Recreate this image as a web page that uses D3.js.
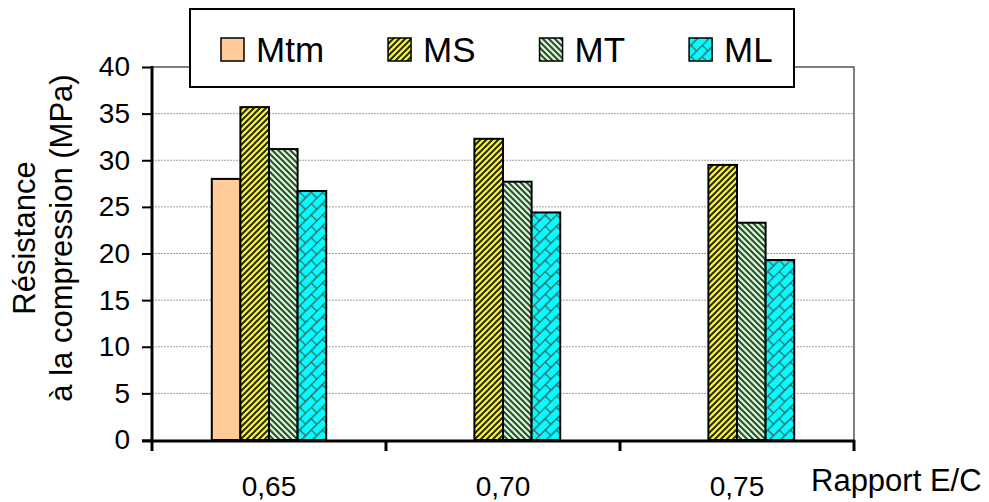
<!DOCTYPE html>
<html>
<head>
<meta charset="utf-8">
<script src="https://cdn.jsdelivr.net/npm/d3@7"></script>
<style>
  body { margin: 0; background: #fff; }
  svg { display: block; font-family: "Liberation Sans", Arial, sans-serif; }
</style>
</head>
<body>
<svg id="chart" width="989" height="502"></svg>
<script>
// data
const ratios = ['0,65', '0,70', '0,75']
const series = ['Mtm', 'MS', 'MT', 'ML']
const mtm = [28.0, null, null]
const ms = [35.7, 32.3, 29.5]
const mt = [31.2, 27.7, 23.3]
const ml = [26.7, 24.4, 19.3]
const yTicks = [0, 5, 10, 15, 20, 25, 30, 35, 40]

const values = { Mtm: mtm, MS: ms, MT: mt, ML: ml }

const svg = d3.select('#chart')
const plotL = 152, plotR = 854, plotT = 67, plotB = 440

// patterns for the hatched fills
const defs = svg.append('defs')

let pMS = defs.append('pattern').attr('id', 'pat-MS')
	.attr('patternUnits', 'userSpaceOnUse').attr('width', 6).attr('height', 6)
pMS.append('rect').attr('width', 6).attr('height', 6).attr('fill', '#ffff00')
pMS.append('path').attr('d', 'M-1.5,1.5 l3,-3 M0,6 l6,-6 M4.5,7.5 l3,-3')
	.attr('stroke', '#262626').attr('stroke-width', 2)

let pMT = defs.append('pattern').attr('id', 'pat-MT')
	.attr('patternUnits', 'userSpaceOnUse').attr('width', 6).attr('height', 6)
pMT.append('rect').attr('width', 6).attr('height', 6).attr('fill', '#ccffcc')
pMT.append('path').attr('d', 'M-1.5,4.5 l3,3 M0,0 l6,6 M4.5,-1.5 l3,3')
	.attr('stroke', '#404040').attr('stroke-width', 2)

// diagonal brick: brick rows rotated -45deg
let pML = defs.append('pattern').attr('id', 'pat-ML')
	.attr('patternUnits', 'userSpaceOnUse').attr('width', 16).attr('height', 16)
	.attr('patternTransform', 'rotate(-45)')
pML.append('rect').attr('width', 16).attr('height', 16).attr('fill', '#00ffff')
pML.append('path').attr('d', 'M0,0.5 H16 M0,8.5 H16 M0.5,0 V8 M8.5,8 V16')
	.attr('stroke', '#3d6262').attr('stroke-width', 1.3)

const fills = { Mtm: '#ffcc99', MS: 'url(#pat-MS)', MT: 'url(#pat-MT)', ML: 'url(#pat-ML)' }

// scales
const x0 = d3.scaleBand().domain(ratios).range([plotL, plotR]).paddingInner(0).paddingOuter(0)
const x1 = d3.scaleBand().domain(series).range([0, x0.bandwidth()]).paddingInner(0).paddingOuter(2.09)
const y = d3.scaleLinear().domain([0, 40]).range([plotB, plotT])

// gridlines
svg.append('g').selectAll('line').data(yTicks.filter(d => d > 0 && d < 40)).join('line')
	.attr('x1', plotL).attr('x2', plotR)
	.attr('y1', d => y(d)).attr('y2', d => y(d))
	.attr('stroke', '#a0a0a0').attr('stroke-width', 1).attr('stroke-dasharray', '2,1')

// plot area border (top and right)
svg.append('path')
	.attr('d', `M${plotL},${y(40)}H${plotR}V${plotB}`)
	.attr('fill', 'none').attr('stroke', '#555').attr('stroke-width', 1.5)

// bars
const groups = svg.append('g').selectAll('g').data(ratios).join('g')
	.attr('transform', d => `translate(${x0(d)},0)`)

groups.selectAll('rect')
	.data((d, i) => series.map(s => ({ s: s, v: values[s][i] })).filter(o => o.v != null))
	.join('rect')
	.attr('x', d => x1(d.s))
	.attr('width', x1.bandwidth())
	.attr('y', d => y(d.v))
	.attr('height', d => y(0) - y(d.v))
	.attr('fill', d => fills[d.s])
	.attr('stroke', '#000').attr('stroke-width', 2)

// y axis
const yAxis = svg.append('g').attr('transform', `translate(${plotL},0)`)
	.call(d3.axisLeft(y).tickValues(yTicks).tickSize(10).tickPadding(12).tickFormat(d3.format('d')))
yAxis.select('.domain').attr('d', `M0,${y(40) - 1}V${plotB + 1}`).attr('stroke-width', 3)
yAxis.selectAll('.tick line').attr('stroke-width', 2)
yAxis.selectAll('.tick text').attr('font-size', 28).attr('fill', '#000')
	.attr('font-family', '"Liberation Sans", Arial, sans-serif')

// x axis: ticks at category boundaries
const xAxis = svg.append('g')
xAxis.append('line').attr('x1', plotL - 10).attr('x2', plotR + 1)
	.attr('y1', plotB + 1).attr('y2', plotB + 1)
	.attr('stroke', '#000').attr('stroke-width', 3)
xAxis.selectAll('line.tk').data(ratios.map(r => x0(r)).concat([plotR])).join('line')
	.attr('class', 'tk')
	.attr('x1', d => d).attr('x2', d => d)
	.attr('y1', plotB).attr('y2', plotB + 11)
	.attr('stroke', '#000').attr('stroke-width', 3)
xAxis.selectAll('text').data(ratios).join('text')
	.attr('x', d => x0(d) + x0.bandwidth() / 2)
	.attr('y', 496)
	.attr('text-anchor', 'middle').attr('font-size', 28)
	.text(d => d)

svg.append('text').attr('x', 811).attr('y', 491).attr('font-size', 31)
	.text('Rapport E/C')

// y axis title, two lines
const yt = svg.append('text').attr('transform', 'translate(0,238) rotate(-90)')
	.attr('text-anchor', 'middle').attr('font-size', 31)
yt.append('tspan').attr('x', 0).attr('y', 35).text('Résistance')
yt.append('tspan').attr('x', 0).attr('y', 72).text('à la compression (MPa)')

// legend
const lg = svg.append('g')
lg.append('rect').attr('x', 190).attr('y', 9).attr('width', 604).attr('height', 78)
	.attr('fill', '#fff').attr('stroke', '#000').attr('stroke-width', 2)
let lx = 221
series.forEach(s => {
	lg.append('rect').attr('x', lx).attr('y', 38).attr('width', 23).attr('height', 23)
		.attr('fill', fills[s]).attr('stroke', '#000').attr('stroke-width', 1.5)
	let t = lg.append('text').attr('x', lx + 35).attr('y', 62).attr('font-size', 35).text(s)
	lx = lx + 35 + t.node().getComputedTextLength() + 64
})
</script>
</body>
</html>
